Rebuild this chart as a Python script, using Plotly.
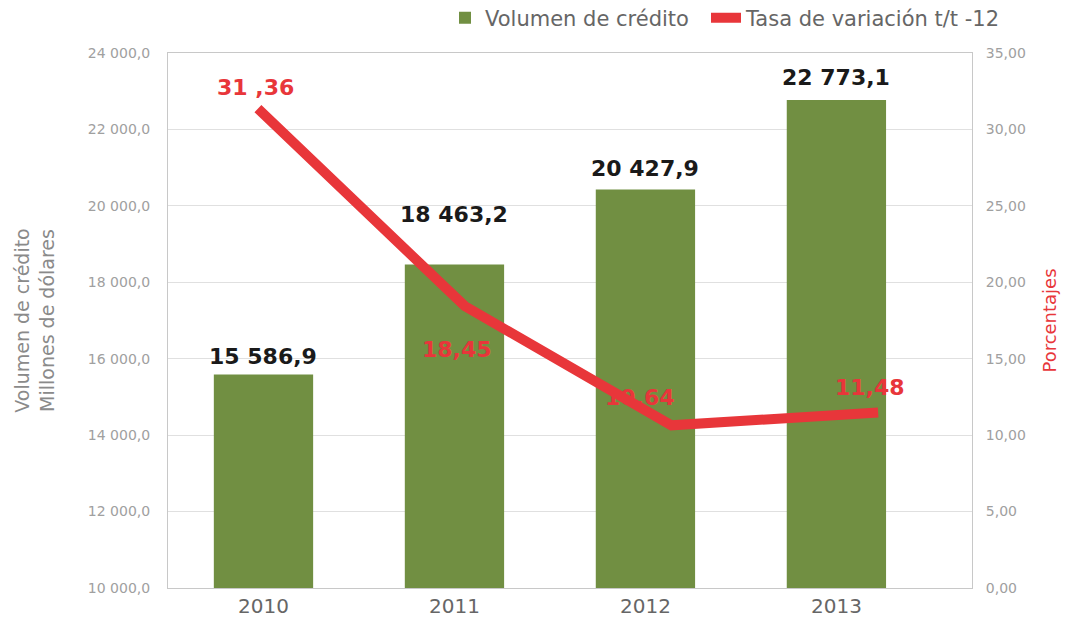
import plotly.graph_objects as go

years = ["2010", "2011", "2012", "2013"]
volumen = [15586.9, 18463.2, 20427.9, 22773.1]
volumen_labels = ["15 586,9", "18 463,2", "20 427,9", "22 773,1"]
tasa = [31.36, 18.45, 10.64, 11.48]
tasa_labels = ["31 ,36", "18,45", "10,64", "11,48"]

GREEN = "#718f42"
RED = "#e8363a"
GRAY = "#8a8a8a"
FONT = "DejaVu Sans, Liberation Sans, sans-serif"

W, H = 1062, 610

fig = go.Figure()
fig.add_trace(go.Bar(
    x=years, y=volumen, name="Volumen de crédito",
    marker=dict(color=GREEN, line=dict(width=0)), width=0.52,
    xaxis="x", yaxis="y", legend="legend",
))
fig.add_trace(go.Scatter(
    x=list(range(len(years))), y=tasa, name="Tasa de variación t/t -12",
    mode="lines", line=dict(color=RED, width=10),
    xaxis="x2", yaxis="y2", legend="legend2",
))

# labels over bars
bar_shift = [18, 50, 21, 22]
for i, (v, t, s) in enumerate(zip(volumen, volumen_labels, bar_shift)):
    fig.add_annotation(x=i, y=v, xref="x", yref="y", text=f"<b>{t}</b>",
                       showarrow=False, yshift=s, font=dict(size=22, color="#1a1a1a", family=FONT))
# labels for the line
line_shift = [(-2, 21), (-8, -44), (-31, 28), (-8, 25)]
for i, (v, t, (dx, dy)) in enumerate(zip(tasa, tasa_labels, line_shift)):
    fig.add_annotation(x=i, y=v, xref="x2", yref="y2", text=f"<b>{t}</b>",
                       showarrow=False, xshift=dx, yshift=dy, font=dict(size=22, color=RED, family=FONT))

legend_common = dict(orientation="h", xref="container", yref="container",
                     xanchor="left", y=1 - 10 / H, yanchor="middle",
                     font=dict(size=21, color="#666666"), bgcolor="rgba(0,0,0,0)")

fig.update_layout(
    width=W, height=H,
    margin=dict(l=160, r=98, t=45, b=30, autoexpand=False),
    paper_bgcolor="white", plot_bgcolor="white",
    separators=", ",
    font=dict(family=FONT, color=GRAY),
    showlegend=True,
    legend=dict(x=437 / W, **legend_common),
    legend2=dict(x=698 / W, **legend_common),
    xaxis=dict(type="category", range=[-0.5, 3.71], showgrid=False, showline=True,
               linecolor="#c8c8c8", mirror=True, ticks="", automargin=False,
               tickfont=dict(size=20, color="#666666")),
    xaxis2=dict(overlaying="x", range=[-0.435, 3.454], visible=False),
    yaxis=dict(range=[10000, 24000], dtick=2000, tickformat=",.1f", automargin=False,
               showgrid=True, gridcolor="#e0e0e0", showline=True, linecolor="#c8c8c8",
               tickfont=dict(size=14, color="#a0a0a0"), ticks="", zeroline=False,
               ticklabelstandoff=14,
               title=dict(text="Volumen de crédito<br>Millones de dólares",
                          font=dict(size=19, color=GRAY), standoff=28)),
    yaxis2=dict(range=[0, 35], dtick=5, tickformat=".2f", overlaying="y", side="right",
                showgrid=False, showline=True, linecolor="#c8c8c8", zeroline=False,
                automargin=False, ticklabelstandoff=10,
                tickfont=dict(size=14, color="#a0a0a0"), ticks="",
                title=dict(text="Porcentajes", font=dict(size=18, color=RED), standoff=18)),
)

fig.write_html("out.html")
